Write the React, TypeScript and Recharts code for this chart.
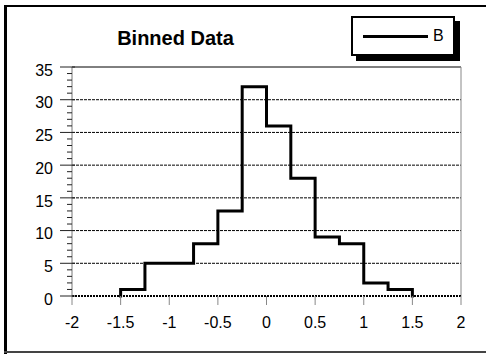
import React from 'react';
import { LineChart, Line, XAxis, YAxis, ReferenceLine, Legend } from 'recharts';

const binEdges = [-1.5, -1.25, -1, -0.75, -0.5, -0.25, 0, 0.25, 0.5, 0.75, 1, 1.25, 1.5];
const binCounts = [1, 5, 5, 8, 13, 32, 26, 18, 9, 8, 2, 1];
const xTicks = [-2, -1.5, -1, -0.5, 0, 0.5, 1, 1.5, 2];
const yTicks = Array.from({ length: 36 }, (_, i) => i);
const gridLevels = [5, 10, 15, 20, 25, 30];

// step outline: rise from zero at first edge, fall back to zero at last edge
const data = [
  { x: binEdges[0], B: 0 },
  ...binCounts.map((c, i) => ({ x: binEdges[i], B: c })),
  { x: binEdges[binEdges.length - 1], B: 0 },
];

const font = '"Liberation Sans", Arial, Helvetica, sans-serif';

const YTick = (props: any) => {
  const { x, y, payload } = props;
  const v = payload.value;
  const major = v % 5 === 0;
  return (
    <g>
      <line x1={x - (major ? 12 : 5)} x2={x + (major ? 3 : 0)} y1={y} y2={y} stroke="#222" strokeWidth={1} />
      {major && (
        <text x={x - 19} y={y + 3} dy="0.355em" textAnchor="end" fontSize={16} fill="#000" fontFamily={font}>
          {v}
        </text>
      )}
    </g>
  );
};

const LegendBox = () => (
  <div
    style={{
      width: 100,
      height: 36,
      border: '2px solid #000',
      boxShadow: '5px 5px 0 #000',
      background: '#fff',
      position: 'relative',
      fontFamily: font,
    }}
  >
    <div style={{ position: 'absolute', left: 10, top: 17, width: 65, height: 3, background: '#000' }} />
    <div style={{ position: 'absolute', left: 80, top: 9, fontSize: 16, lineHeight: '18px' }}>B</div>
  </div>
);

export default function App() {
  return (
    <div style={{ position: 'absolute', left: 0, top: 0, width: 486, height: 354, background: '#fff', fontFamily: font }}>
      <div style={{ position: 'absolute', left: 4, top: 5, width: 482, height: 2, background: '#000' }} />
      <div style={{ position: 'absolute', left: 4, top: 5, width: 3, height: 349, background: '#000' }} />
      <div style={{ position: 'absolute', left: 4, top: 351, width: 482, height: 2, background: '#444' }} />
      <div
        style={{
          position: 'absolute',
          left: 0,
          width: 351,
          textAlign: 'center',
          top: 28,
          fontSize: 20,
          lineHeight: '20px',
          fontWeight: 'bold',
          zIndex: 2,
        }}
      >
        Binned Data
      </div>
      <LineChart width={486} height={354} data={data} margin={{ top: 67, right: 25, bottom: 28, left: 0 }}>
        <XAxis
          dataKey="x"
          type="number"
          domain={[-2, 2]}
          ticks={xTicks}
          interval={0}
          height={30}
          tickSize={9}
          tickMargin={12}
          tickLine={{ stroke: '#888' }}
          axisLine={{ stroke: '#000', strokeWidth: 2, strokeDasharray: '2 1' }}
          tick={{ fontSize: 16, fill: '#000', fontFamily: font }}
        />
        <YAxis
          type="number"
          domain={[0, 35]}
          ticks={yTicks}
          interval={0}
          width={72}
          tickSize={0}
          tickMargin={0}
          tickLine={false}
          axisLine={{ stroke: '#777' }}
          tick={<YTick />}
        />
        {gridLevels.map((g) => (
          <ReferenceLine key={g} y={g} stroke="#000" strokeDasharray="3 1" />
        ))}
        <ReferenceLine y={35} stroke="#000" />
        <ReferenceLine x={2} stroke="#888" />
        <Legend
          layout="vertical"
          align="center"
          verticalAlign="middle"
          wrapperStyle={{ position: 'absolute', top: 16, left: 351, width: 104, height: 40 }}
          content={() => <LegendBox />}
        />
        <Line
          type="stepAfter"
          dataKey="B"
          stroke="#000"
          strokeWidth={3}
          strokeLinecap="square"
          dot={false}
          isAnimationActive={false}
        />
      </LineChart>
    </div>
  );
}
